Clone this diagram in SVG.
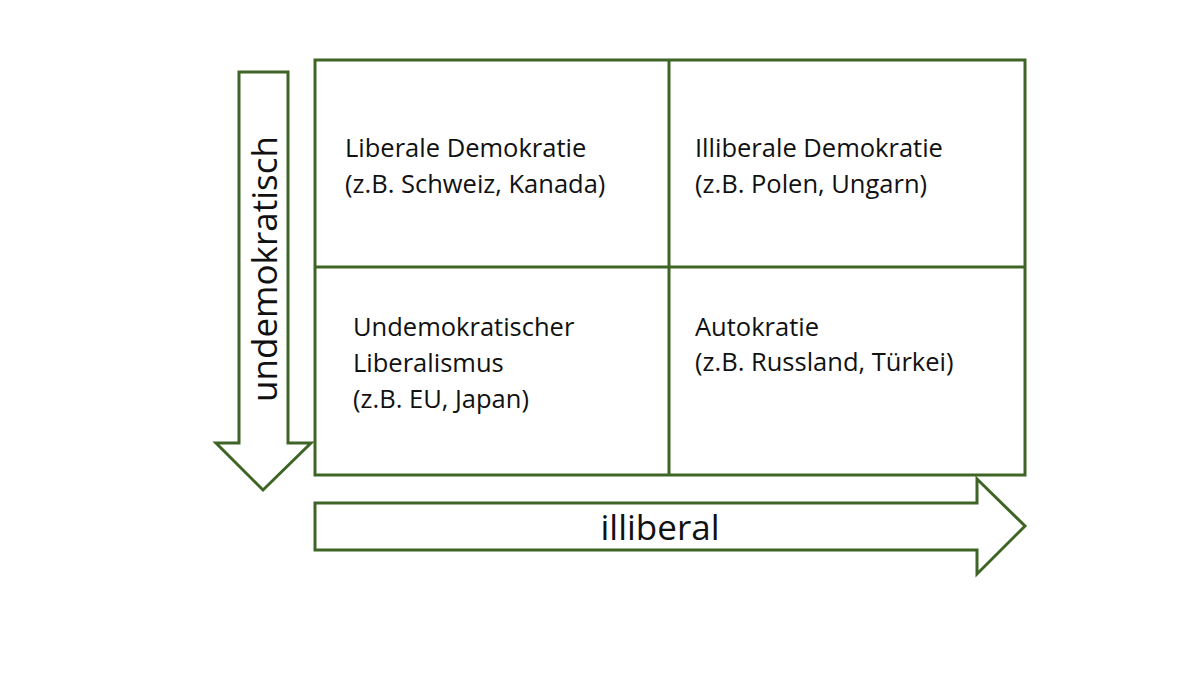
<svg xmlns="http://www.w3.org/2000/svg" width="1200" height="675" viewBox="0 0 1200 675">
<style>
.s{fill:#fff;stroke:#3f6526;stroke-width:3}
.t{font-family:"Open Sans","Liberation Sans",sans-serif;font-size:25.5px;fill:#111}
.b{font-family:"Open Sans","Liberation Sans",sans-serif;font-size:35px;fill:#111}
</style>
<rect width="1200" height="675" fill="#fff"/>
<g id="connectors">
<polygon id="down" class="s" points="239,72 288,72 288,443 311,443 263,490 216,443 239,443"/>
<polygon id="right" class="s" points="315,503 977,503 977,479 1025,526 977,574 977,550 315,550"/>
<text class="b" x="660" y="540" text-anchor="middle">illiberal</text>
<text class="b" transform="translate(277,269) rotate(-90)" text-anchor="middle">undemokratisch</text>
</g>
<g id="grid">
<rect class="s" x="315" y="60" width="710" height="415"/>
<line class="s" x1="669" y1="60" x2="669" y2="475"/>
<line class="s" x1="315" y1="267" x2="1025" y2="267"/>
</g>
<g id="n1"><text class="t" x="345" y="157">Liberale Demokratie</text><text class="t" x="345" y="193">(z.B. Schweiz, Kanada)</text></g>
<g id="n2"><text class="t" x="695" y="157">Illiberale Demokratie</text><text class="t" x="695" y="193">(z.B. Polen, Ungarn)</text></g>
<g id="n3"><text class="t" x="353" y="336">Undemokratischer</text><text class="t" x="353" y="372">Liberalismus</text><text class="t" x="353" y="408">(z.B. EU, Japan)</text></g>
<g id="n4"><text class="t" x="695" y="336">Autokratie</text><text class="t" x="695" y="371">(z.B. Russland, Türkei)</text></g>
</svg>
